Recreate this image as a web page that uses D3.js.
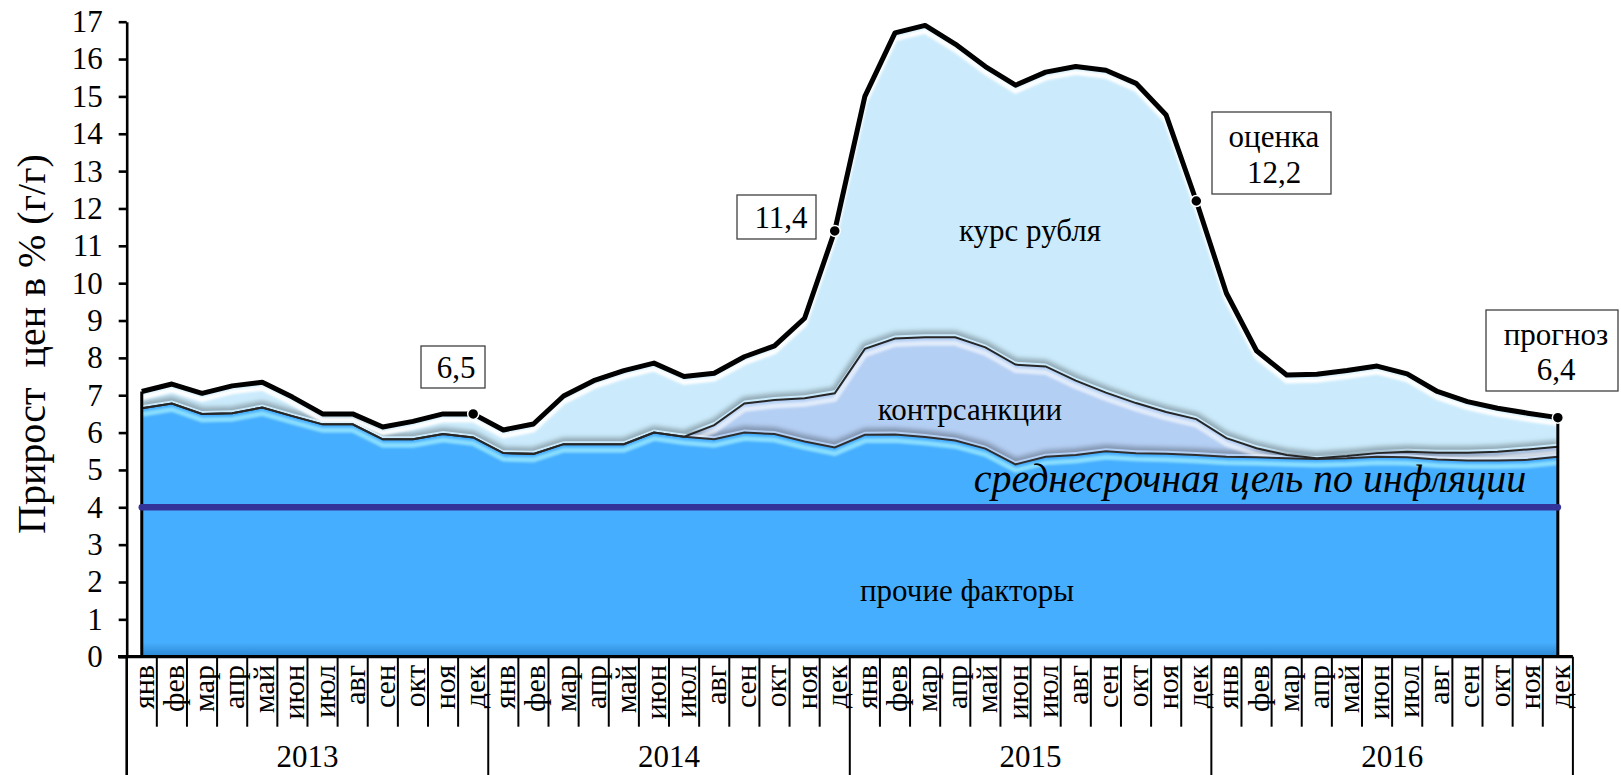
<!DOCTYPE html>
<html><head><meta charset="utf-8">
<script src="https://cdn.jsdelivr.net/npm/d3@7"></script>
<style>
html,body{margin:0;padding:0;background:#fff;}
svg{display:block;}
svg text{font-family:"Liberation Serif","Times New Roman",serif;fill:#000;}
</style></head><body>
<svg id="c" width="1621" height="775"></svg>
<script>
// ---------- DATA ----------
const months = ["янв","фев","мар","апр","май","июн","июл","авг","сен","окт","ноя","дек"];
const years = ["2013","2014","2015","2016"];
// прочие факторы (bottom layer), % y/y
const otherFactors = [
  6.65,6.78,6.50,6.52,6.67,6.44,6.22,6.22,5.82,5.82,5.96,5.87,
  5.45,5.43,5.69,5.69,5.69,6.00,5.89,5.82,6.00,5.96,5.76,5.60,
  5.94,5.95,5.88,5.79,5.57,5.15,5.35,5.40,5.50,5.45,5.43,5.40,
  5.35,5.34,5.31,5.29,5.31,5.35,5.34,5.28,5.25,5.25,5.27,5.35
];
// контрсанкции (middle layer)
const countersanctions = [
  0,0,0,0,0,0,0,0,0,0,0,0,
  0,0,0,0,0,0,0,0.38,0.78,0.91,1.16,1.45,
  2.30,2.57,2.67,2.76,2.71,2.67,2.42,1.99,1.57,1.34,1.12,0.96,
  0.50,0.24,0.09,0.02,0.06,0.10,0.15,0.18,0.21,0.24,0.28,0.27
];
// курс рубля (top layer)
const rubleRate = [
  0.45,0.52,0.55,0.73,0.68,0.51,0.28,0.28,0.33,0.48,0.54,0.63,
  0.62,0.80,1.29,1.70,1.97,1.86,1.61,1.39,1.25,1.45,2.14,4.35,
  6.76,8.18,8.35,7.85,7.52,7.48,7.88,8.41,8.63,8.56,7.95,5.84,
  3.88,2.61,2.14,2.25,2.29,2.33,2.08,1.64,1.37,1.16,0.97,0.78
];
const yTicks = d3.range(0, 18);
const targetLevel = 4;
const markedMonths = [11, 23, 35, 47];
const calloutCaptions = [[""], [""], ["оценка"], ["прогноз"]];
const layerNames = ["прочие факторы", "контрсанкции", "курс рубля"];
const targetName = "среднесрочная цель по инфляции";
const yTitle = "Прирост  цен в % (г/г)";

// ---------- SETUP ----------
const svg = d3.select("#c");
const N = otherFactors.length;
const idx = d3.range(N);
const rows = idx.map(i => ({i, other: otherFactors[i], counter: countersanctions[i], ruble: rubleRate[i]}));
const series = d3.stack().keys(["other","counter","ruble"])(rows);
const total = idx.map(i => otherFactors[i] + countersanctions[i] + rubleRate[i]);

const x = d3.scaleBand().domain(idx).range([126.7, 1572.9]).padding(0);
const bw = x.bandwidth();
const cx = i => x(i) + bw / 2;
const y = d3.scaleLinear().domain([0, 17]).range([656.7, 21.7]);

const colors = ["#46AEFF", "#B4CFF4", "#CBEBFC"];

const defs = svg.append("defs");
defs.append("filter").attr("id","b1").attr("x","-10%").attr("y","-50%").attr("width","120%").attr("height","200%")
  .append("feGaussianBlur").attr("stdDeviation", 1.3);
defs.append("filter").attr("id","b2").attr("x","-10%").attr("y","-50%").attr("width","120%").attr("height","200%")
  .append("feGaussianBlur").attr("stdDeviation", 2.6);
const g0 = defs.append("linearGradient").attr("id","blueGrad").attr("gradientUnits","userSpaceOnUse")
  .attr("x1",0).attr("x2",0).attr("y1", y(0) - 14).attr("y2", y(0));
g0.append("stop").attr("offset",0).attr("stop-color", colors[0]);
g0.append("stop").attr("offset",1).attr("stop-color", "#2C86CF");

const area = d3.area().x(d => cx(d.data.i)).y0(d => y(d[0])).y1(d => y(d[1]));
const topLine = d3.line().x(d => cx(d.data.i)).y(d => y(d[1]));

series.forEach((s, k) => {
  defs.append("clipPath").attr("id", "clip" + k).append("path").attr("d", area(s));
});

// areas
const fills = ["url(#blueGrad)", colors[1], colors[2]];
svg.append("g").selectAll("path").data(series).join("path")
  .attr("d", area).attr("fill", (d, k) => fills[k]);

// shadows above inner boundaries
[0, 1].forEach(k => {
  svg.append("path").attr("d", topLine(series[k])).attr("fill","none")
    .attr("stroke","#000").attr("stroke-opacity", 0.3).attr("stroke-width", 7)
    .attr("transform","translate(0,-3)").attr("filter","url(#b2)")
    .attr("clip-path", "url(#clip" + (k + 1) + ")");
});
// highlights below top edges
const hl = [{k:0, c:"#8FE2FF", o:0.9}, {k:1, c:"#FFFFFF", o:0.6}, {k:2, c:"#FFFFFF", o:0.95}];
hl.forEach(h => {
  svg.append("g").attr("clip-path","url(#clip" + h.k + ")")
    .append("path").attr("d", topLine(series[h.k])).attr("fill","none")
    .attr("stroke", h.c).attr("stroke-opacity", h.o).attr("stroke-width", 5)
    .attr("transform","translate(0,6)").attr("filter","url(#b1)");
});
// boundary lines
svg.append("path").attr("d", topLine(series[0])).attr("fill","none")
  .attr("stroke","#2E2E2E").attr("stroke-width", 2);
svg.append("path").attr("d", topLine(series[1])).attr("fill","none")
  .attr("stroke","#262626").attr("stroke-width", 2);

// side edges
[0, N - 1].forEach(i => {
  svg.append("line").attr("x1", cx(i)).attr("x2", cx(i)).attr("y1", y(total[i])).attr("y2", y(0))
    .attr("stroke","#000").attr("stroke-width", 3);
});

// total line
svg.append("path").attr("d", topLine(series[2])).attr("fill","none")
  .attr("stroke","#000").attr("stroke-width", 5).attr("stroke-linejoin","round");

// target line
svg.append("line").attr("x1", cx(0)).attr("x2", cx(N - 1)).attr("y1", y(targetLevel)).attr("y2", y(targetLevel))
  .attr("stroke","#333399").attr("stroke-width", 6.5).attr("stroke-linecap","round");

// layer labels
svg.append("text").attr("x", 1030).attr("y", 241).attr("text-anchor","middle").attr("font-size", 31).text(layerNames[2]);
svg.append("text").attr("x", 970).attr("y", 420).attr("text-anchor","middle").attr("font-size", 31).text(layerNames[1]);
svg.append("text").attr("x", 967).attr("y", 601).attr("text-anchor","middle").attr("font-size", 31).text(layerNames[0]);
svg.append("text").attr("x", 1250).attr("y", 492).attr("text-anchor","middle").attr("font-size", 40).attr("font-style","italic").text(targetName);

// dots
svg.append("g").selectAll("circle").data(markedMonths).join("circle")
  .attr("cx", i => cx(i)).attr("cy", i => y(total[i])).attr("r", 5.5)
  .attr("fill","#000").attr("stroke","#fff").attr("stroke-width", 1.5);

// callout boxes
const fmt = v => d3.format(".1f")(v).replace(".", ",");
const boxes = [
  {x:421, y:346, w:64, h:42, tx:456, ty:[378]},
  {x:737, y:195, w:79, h:44, tx:781, ty:[228]},
  {x:1212, y:112, w:119, h:82, tx:1274, ty:[147, 183]},
  {x:1486, y:310, w:132, h:81, tx:1556, ty:[345, 380]}
];
boxes.forEach((b, j) => {
  const lines = calloutCaptions[j][0] ? [calloutCaptions[j][0], fmt(total[markedMonths[j]])] : [fmt(total[markedMonths[j]])];
  svg.append("rect").attr("x", b.x).attr("y", b.y).attr("width", b.w).attr("height", b.h)
    .attr("fill","#fff").attr("stroke","#404040").attr("stroke-width", 1.3);
  lines.forEach((t, m) => {
    svg.append("text").attr("x", b.tx).attr("y", b.ty[m]).attr("text-anchor","middle").attr("font-size", 31).text(t);
  });
});

// y axis
const yAxis = svg.append("g").attr("transform", "translate(126.7,0)")
  .call(d3.axisLeft(y).tickValues(yTicks).tickSize(8).tickSizeOuter(0).tickPadding(16).tickFormat(d3.format("d")));
yAxis.select(".domain").attr("stroke","#000").attr("stroke-width", 2.6);
yAxis.selectAll(".tick line").attr("stroke","#000").attr("stroke-width", 2.6);
yAxis.selectAll(".tick text").attr("font-size", 31);

// y title
svg.append("text").attr("transform", "translate(45,344) rotate(-90)").attr("text-anchor","middle")
  .attr("font-size", 40).style("white-space","pre").text(yTitle);

// x axis
const xg = svg.append("g");
xg.append("line").attr("x1", 118).attr("x2", x.range()[1]).attr("y1", y(0)).attr("y2", y(0))
  .attr("stroke","#000").attr("stroke-width", 3.2);
xg.append("line").attr("x1", 126.7).attr("x2", 126.7).attr("y1", y(0)).attr("y2", 775)
  .attr("stroke","#000").attr("stroke-width", 2.6);
const bounds = d3.range(1, N + 1);
xg.selectAll("line.div").data(bounds).join("line").attr("class","div")
  .attr("x1", i => i < N ? x(i) : x.range()[1]).attr("x2", i => i < N ? x(i) : x.range()[1])
  .attr("y1", y(0)).attr("y2", i => i % 12 === 0 ? 775 : 726.7)
  .attr("stroke","#000").attr("stroke-width", 2);
xg.selectAll("text.m").data(idx).join("text").attr("class","m")
  .attr("transform", i => `translate(${cx(i) + 12},665) rotate(-90)`)
  .attr("text-anchor","end").attr("font-size", 30).text(i => months[i % 12]);
xg.selectAll("text.yr").data(years).join("text").attr("class","yr")
  .attr("x", (d, k) => (x(k * 12) + x(k * 12 + 11) + bw) / 2).attr("y", 767)
  .attr("text-anchor","middle").attr("font-size", 31).text(d => d);
</script>
</body></html>
